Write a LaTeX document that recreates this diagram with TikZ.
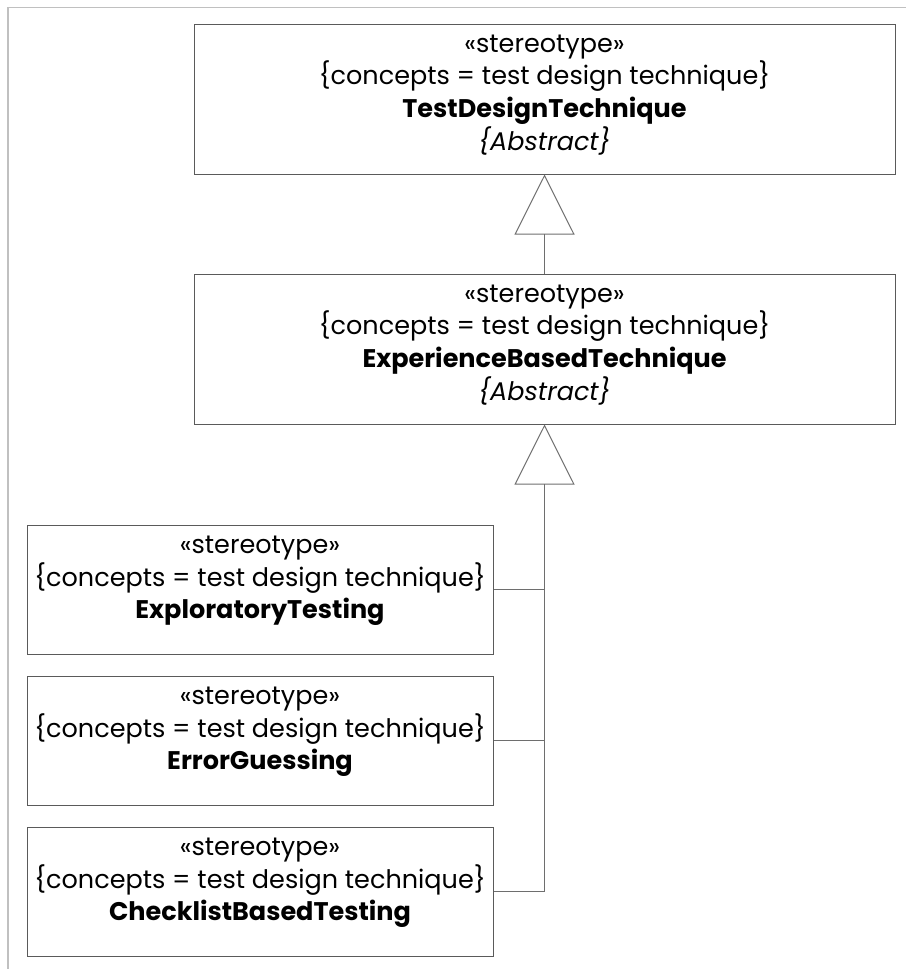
\documentclass[tikz,border=0pt]{standalone}
\usepackage{fontspec}
\setmainfont{Poppins}
\usetikzlibrary{positioning,arrows.meta}

\definecolor{boxgray}{HTML}{5A5A5A}
\definecolor{linegray}{HTML}{6E6E6E}
\definecolor{framegray}{HTML}{C0C0C0}

\tikzset{
  classbox/.style={draw=boxgray, line width=1pt, fill=white, inner sep=0pt},
  bigbox/.style={classbox, minimum width=701pt, minimum height=150pt},
  smallbox/.style={classbox, minimum width=466pt, minimum height=129pt},
  classtext/.style={align=center, inner sep=0pt, font=\fontsize{25.5}{32.8}\selectfont},
  generalize/.style={draw=linegray, line width=1pt, -{Triangle[open, length=60pt, width=60pt]}},
  treeline/.style={draw=linegray, line width=1pt},
}

\begin{document}
\begin{tikzpicture}[x=1pt, y=-1pt]
\useasboundingbox (0,0) rectangle (906,969);
% frame of the canvas
\draw[framegray, line width=1pt] (8,7.5) -- (906,7.5);
\draw[framegray, line width=2pt] (8,7) -- (8,969);

% abstract classes
\node[bigbox] (tdt) at (544.5,99) {};
\node[classtext, below=11pt of tdt.north] (tdt-t) {«stereotype»\\ \{concepts = test design technique\}\\ \textbf{TestDesignTechnique}\\ \textit{\{Abstract\}}};

\node[bigbox] (ebt) at (544.5,349) {};
\node[classtext, below=11pt of ebt.north] (ebt-t) {«stereotype»\\ \{concepts = test design technique\}\\ \textbf{ExperienceBasedTechnique}\\ \textit{\{Abstract\}}};

% concrete techniques
\node[smallbox] (expl) at (260,589.5) {};
\node[smallbox, below=21pt of expl] (err) {};
\node[smallbox, below=21pt of err] (chk) {};
\node[classtext, below=11pt of expl.north] (expl-t) {«stereotype»\\ \{concepts = test design technique\}\\ \textbf{ExploratoryTesting}};
\node[classtext, below=11pt of err.north] (err-t) {«stereotype»\\ \{concepts = test design technique\}\\ \textbf{ErrorGuessing}};
\node[classtext, below=11pt of chk.north] (chk-t) {«stereotype»\\ \{concepts = test design technique\}\\ \textbf{ChecklistBasedTesting}};

% generalizations
\draw[generalize] (ebt.north) -- (tdt.south);
\draw[generalize] (chk.east) -| (ebt.south);
\draw[treeline] (expl.east) -- (expl.east -| ebt.south);
\draw[treeline] (err.east) -- (err.east -| ebt.south);
\end{tikzpicture}
\end{document}
